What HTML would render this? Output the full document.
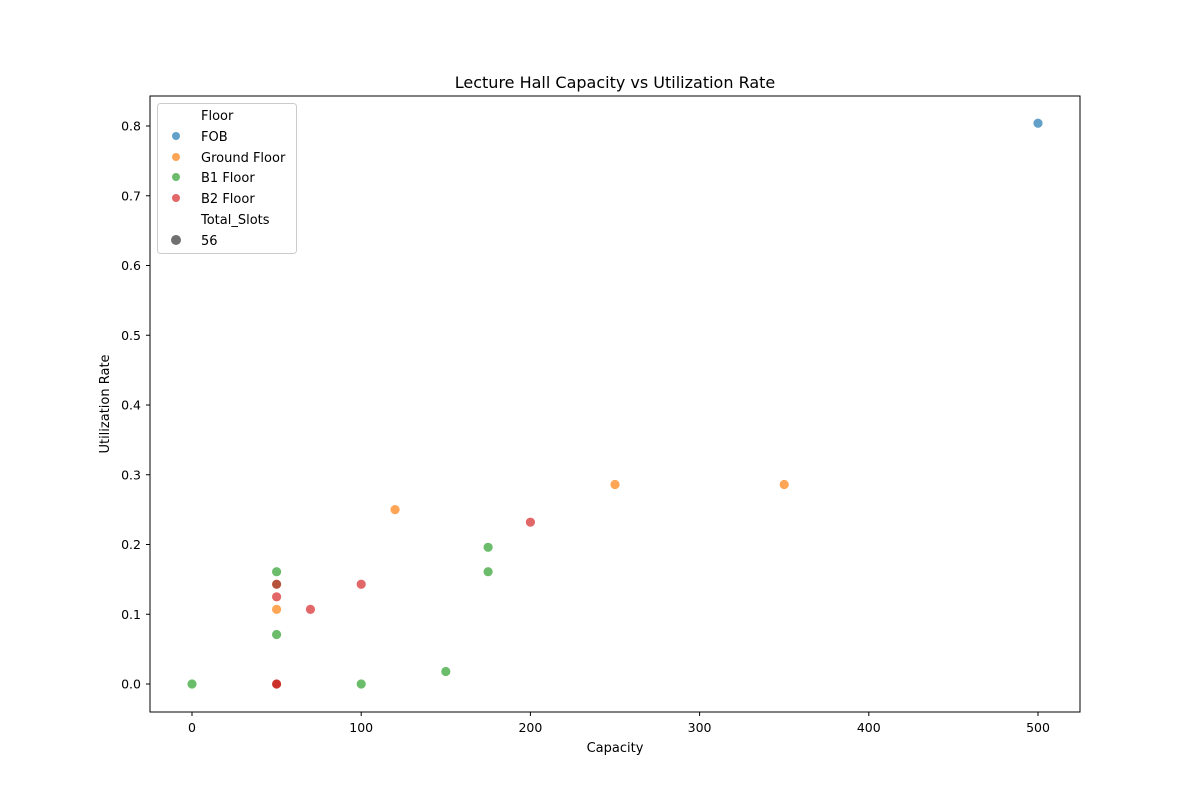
<!DOCTYPE html>
<html><head><meta charset="utf-8"><style>
body{margin:0;background:#fff;font-family:"Liberation Sans","DejaVu Sans",sans-serif;}
svg text{font-family:"DejaVu Sans","Liberation Sans",sans-serif;}
</style></head><body>
<svg id="chart" width="1200" height="800" xmlns="http://www.w3.org/2000/svg">
<rect width="1200" height="800" fill="#fff"/>
<text x="615" y="88" font-size="16" text-anchor="middle">Lecture Hall Capacity vs Utilization Rate</text>
<g id="points"></g>
<rect x="150" y="96" width="930" height="616" fill="none" stroke="#000" stroke-width="1"/>
<g id="xticks"></g><g id="yticks"></g>
<text x="615" y="752" font-size="13" text-anchor="middle">Capacity</text>
<text transform="translate(109,404) rotate(-90)" font-size="13" text-anchor="middle">Utilization Rate</text>
<g>
<rect x="157.5" y="103.5" width="139" height="150" rx="3" fill="#fff" fill-opacity="0.8" stroke="#ccc"/>
<text x="201" y="120" font-size="13">Floor</text>
<circle cx="176" cy="136" r="4" fill="#1f77b4" fill-opacity="0.7"/><text x="201" y="141" font-size="13">FOB</text>
<circle cx="176" cy="157" r="4" fill="#ff7f0e" fill-opacity="0.7"/><text x="201" y="162" font-size="13">Ground Floor</text>
<circle cx="176" cy="177" r="4" fill="#2ca02c" fill-opacity="0.7"/><text x="201" y="182" font-size="13">B1 Floor</text>
<circle cx="176" cy="198" r="4" fill="#d62728" fill-opacity="0.7"/><text x="201" y="203" font-size="13">B2 Floor</text>
<text x="201" y="224" font-size="13">Total_Slots</text>
<circle cx="176" cy="240" r="5" fill="#333" fill-opacity="0.7"/><text x="201" y="245" font-size="13">56</text>
</g>
</svg>
<script>
const seriesNames = ["FOB","Ground Floor","B1 Floor","B2 Floor"];
const seriesColors = ["#1f77b4","#ff7f0e","#2ca02c","#d62728"];
const fobCap = [500];
const fobUtil = [0.804];
const groundCap = [250,350,120,50,50];
const groundUtil = [0.286,0.286,0.25,0.107,0];
const b1Cap = [175,175,50,50,50,0,100,150,50];
const b1Util = [0.196,0.161,0.161,0.143,0.071,0,0,0.018,0];
const b2Cap = [200,100,50,50,70,50,50];
const b2Util = [0.232,0.143,0.143,0.125,0.107,0,0];
const xTicks = [0,100,200,300,400,500];
const yTicks = [0.0,0.1,0.2,0.3,0.4,0.5,0.6,0.7,0.8];

const NS="http://www.w3.org/2000/svg";
const xs = v => 192 + v*(1038-192)/500;
const ys = v => 684 - v*(684-126)/0.8;
const caps=[fobCap,groundCap,b1Cap,b2Cap], utils=[fobUtil,groundUtil,b1Util,b2Util];
const pg=document.getElementById('points');
caps.forEach((c,si)=>c.forEach((x,i)=>{
  const el=document.createElementNS(NS,'circle');
  
  
  el.setAttribute('cx',xs(x));el.setAttribute('cy',ys(utils[si][i]));el.setAttribute('r',5);
  el.setAttribute('fill',seriesColors[si]);el.setAttribute('fill-opacity',0.7);
  el.setAttribute('stroke','#fff');el.setAttribute('stroke-width',0.8);
  pg.appendChild(el);
}));
const xg=document.getElementById('xticks');
xTicks.forEach(t=>{
  const l=document.createElementNS(NS,'line');
  l.setAttribute('x1',xs(t));l.setAttribute('x2',xs(t));l.setAttribute('y1',712);l.setAttribute('y2',716);l.setAttribute('stroke','#000');
  xg.appendChild(l);
  const tx=document.createElementNS(NS,'text');
  
  
  tx.setAttribute('x',xs(t));tx.setAttribute('y',732);tx.setAttribute('font-size',12.5);tx.setAttribute('text-anchor','middle');
  tx.textContent=t;xg.appendChild(tx);
});
const yg=document.getElementById('yticks');
yTicks.forEach(t=>{
  const l=document.createElementNS(NS,'line');
  l.setAttribute('x1',146);l.setAttribute('x2',150);l.setAttribute('y1',ys(t));l.setAttribute('y2',ys(t));l.setAttribute('stroke','#000');
  yg.appendChild(l);
  const tx=document.createElementNS(NS,'text');
  
  
  tx.setAttribute('x',141);tx.setAttribute('y',ys(t)+4.5);tx.setAttribute('font-size',12.5);tx.setAttribute('text-anchor','end');
  tx.textContent=t.toFixed(1);yg.appendChild(tx);
});
</script>
</body></html>
